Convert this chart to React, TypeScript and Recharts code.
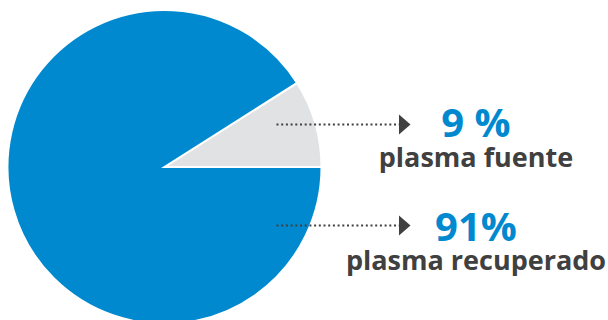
import { PieChart, Pie, Cell } from 'recharts';

const categories = ['plasma fuente', 'plasma recuperado'];
const values = [9, 91];
const valueLabels = ['9 %', '91%'];
const sliceColors = ['#E1E2E4', '#0089CF'];

const data = categories.map((name, i) => ({ name, value: values[i], label: valueLabels[i] }));

const CX = 164.5;
const CY = 167;
const BLUE = '#0089CF';
const DARK = '#404040';

// vertical offsets of each annotation (arrow line, value, name) from the pie center
const annot = [
  { line: -42.5, value: 12.5, name: 42 },
  { line: 58.5, value: 15, name: 44.5 },
];

function renderLabel(props: any) {
  const { index } = props;
  const a = annot[index];
  if (!a) return null;
  const y = CY + a.line;
  const x0 = CX + 112;
  const ax = CX + 234.5;
  const tx = CX + 311.5;
  return (
    <g key={`lbl-${index}`}>
      <line x1={x0} y1={y} x2={ax} y2={y} stroke={DARK} strokeWidth={2} strokeDasharray="2 2.7" />
      <polygon points={`${ax},${y - 10} ${ax + 11.5},${y} ${ax},${y + 10}`} fill={DARK} />
      <text
        x={tx}
        y={y + a.value}
        textAnchor="middle"
        fontFamily="'Open Sans', sans-serif"
        fontWeight={700}
        fontSize={40}
        fill={BLUE}
      >
        {data[index].label}
      </text>
      <text
        x={tx}
        y={y + a.name}
        textAnchor="middle"
        fontFamily="'Open Sans', sans-serif"
        fontWeight={700}
        fontSize={27}
        fill={DARK}
      >
        {data[index].name}
      </text>
    </g>
  );
}

export default function App() {
  return (
    <div style={{ position: 'absolute', left: 0, top: 0, width: 608, height: 320, background: '#fff' }}>
      <PieChart width={608} height={320} margin={{ top: 0, right: 0, bottom: 0, left: 0 }}>
        <Pie
          data={data}
          dataKey="value"
          nameKey="name"
          cx={CX}
          cy={CY}
          innerRadius={0}
          outerRadius={157}
          startAngle={0}
          endAngle={360}
          stroke="#fff"
          strokeWidth={2}
          label={renderLabel}
          labelLine={false}
          isAnimationActive={false}
        >
          {data.map((d, i) => (
            <Cell key={d.name} fill={sliceColors[i]} />
          ))}
        </Pie>
      </PieChart>
    </div>
  );
}
